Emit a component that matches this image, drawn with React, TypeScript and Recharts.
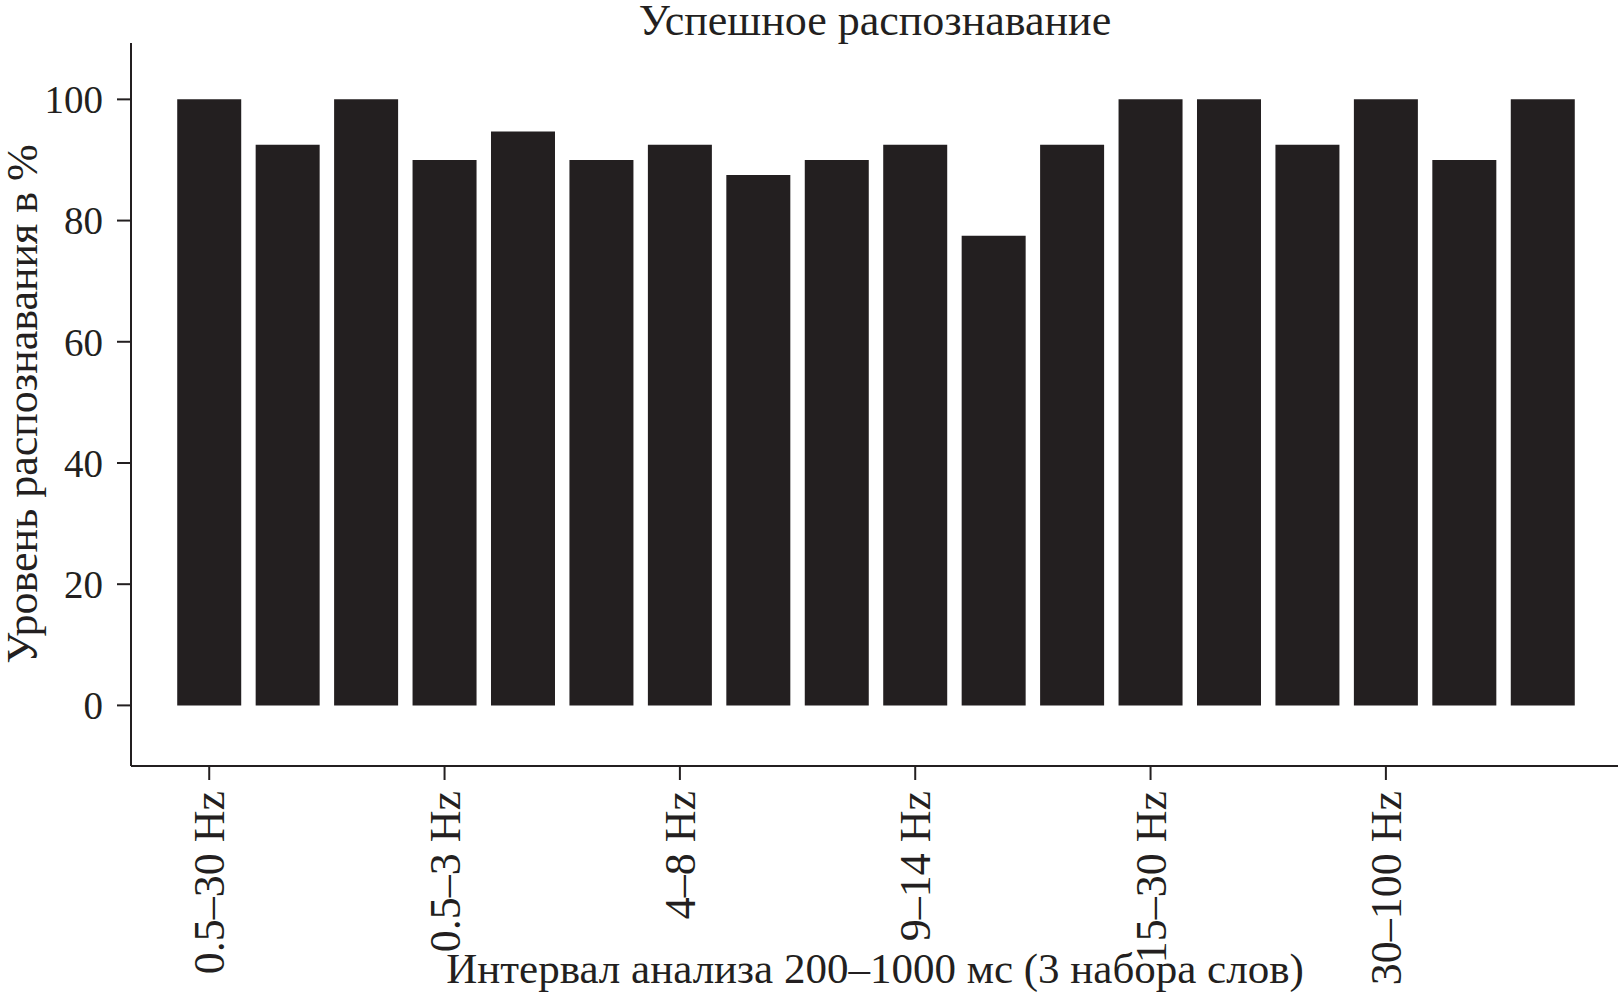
import React from 'react';
import { BarChart, Bar, XAxis, YAxis } from 'recharts';

// frequency bands, each measured on 3 word sets
const bands = ['0.5–30 Hz', '0.5–3 Hz', '4–8 Hz', '9–14 Hz', '15–30 Hz', '30–100 Hz'];
const wordSets = [1, 2, 3];
const recognition = [
  100, 92.5, 100,
  90, 94.7, 90,
  92.5, 87.5, 90,
  92.5, 77.5, 92.5,
  100, 100, 92.5,
  100, 90, 100,
];
const yTicks = [0, 20, 40, 60, 80, 100];

const title = 'Успешное распознавание';
const xTitle = 'Интервал анализа 200–1000 мс (3 набора слов)';
const yTitle = 'Уровень распознавания в %';

const INK = '#231F20';
const FONT = '"Liberation Serif", "Times New Roman", serif';

const data = bands.flatMap((band, b) =>
  wordSets.map((set, s) => ({
    key: `${band} / ${set}`,
    band,
    value: recognition[b * wordSets.length + s],
  }))
);

const BandTick = (props: any) => {
  const { x, y, payload } = props;
  const label = bands[Math.floor(payload.index / wordSets.length)];
  return (
    <text
      x={x}
      y={y}
      transform={`rotate(-90, ${x}, ${y})`}
      textAnchor="end"
      dy="0.34em"
      fill={INK}
      fontFamily={FONT}
      fontSize={44}
    >
      {label}
    </text>
  );
};

export default function App() {
  return (
    <div style={{ position: 'absolute', left: 0, top: 0, width: 1618, height: 998, background: '#fff' }}>
      <div
        style={{
          position: 'absolute',
          left: 0,
          width: 1750,
          top: 0,
          textAlign: 'center',
          fontFamily: FONT,
          fontSize: 44,
          lineHeight: '42px',
          color: INK,
        }}
      >
        {title}
      </div>
      <BarChart
        width={1618}
        height={998}
        data={data}
        margin={{ top: 43, right: 0, left: 0, bottom: 0 }}
        barCategoryGap="9.2%"
      >
        <XAxis
          dataKey="key"
          interval={2}
          height={232}
          padding={{ left: 39, right: 36 }}
          tick={<BandTick />}
          tickSize={14}
          tickMargin={11}
          axisLine={{ stroke: INK, strokeWidth: 2 }}
          tickLine={{ stroke: INK, strokeWidth: 2 }}
          label={{
            content: () => (
              <text x={875} y={983} textAnchor="middle" fill={INK} fontFamily={FONT} fontSize={43}>
                {xTitle}
              </text>
            ),
          }}
        />
        <YAxis
          width={131}
          domain={[-10, 109.3]}
          ticks={yTicks}
          tickSize={14}
          tickMargin={14}
          tick={{ fill: INK, fontFamily: FONT, fontSize: 39 }}
          axisLine={{ stroke: INK, strokeWidth: 2 }}
          tickLine={{ stroke: INK, strokeWidth: 2 }}
          label={{
            content: () => (
              <text
                x={37}
                y={404}
                transform="rotate(-90, 37, 404)"
                textAnchor="middle"
                fill={INK}
                fontFamily={FONT}
                fontSize={44}
              >
                {yTitle}
              </text>
            ),
          }}
        />
        <Bar dataKey="value" fill={INK} isAnimationActive={false} />
      </BarChart>
    </div>
  );
}
